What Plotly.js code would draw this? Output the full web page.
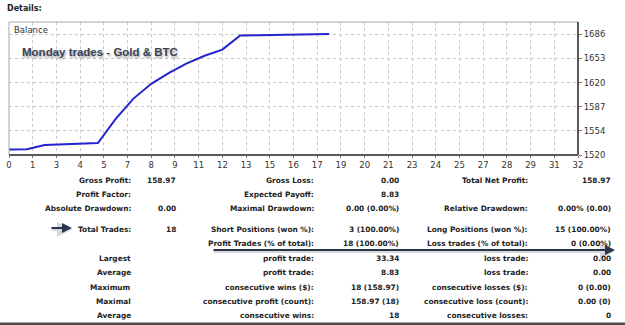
<!DOCTYPE html>
<html>
<head>
<meta charset="utf-8">
<script src="https://cdn.plot.ly/plotly-3.0.1.min.js"></script>
<style>
html,body{margin:0;padding:0;background:#fff;}
#chart{width:625px;height:325px;}
</style>
</head>
<body>
<div id="chart"></div>
<script>
// ---- data ----
var tradeIndex = [0,1,2,3,4,5,6,7,8,9,10,11,12,13,14,15,16,17,18];
var balance = [1527.4,1527.9,1533.6,1534.6,1535.3,1536.5,1569.8,1597.6,1618.0,1633.0,1646.0,1656.5,1665.0,1684.5,1684.7,1684.9,1686.0,1686.2,1686.4];
var xTickLabels = ["0","1","3","4","5","7","8","9","11","12","13","15","16","17","19","20","21","23","24","25","27","28","29","31","32"];
var yTickValues = [1520,1553.2,1586.4,1619.6,1652.8,1686];
var yTickLabels = ["1520","1554","1587","1620","1653","1686"];
var chartTitle = "Monday trades - Gold & BTC";

var col1Labels = ["Gross Profit:","Profit Factor:","Absolute Drawdown:","Total Trades:","","Largest","Average","Maximum","Maximal","Average"];
var col2Values = ["158.97","","0.00","18","","","","","",""];
var col3Labels = ["Gross Loss:","Expected Payoff:","Maximal Drawdown:","Short Positions (won %):","Profit Trades (% of total):","profit trade:","profit trade:","consecutive wins ($):","consecutive profit (count):","consecutive wins:"];
var col4Values = ["0.00","8.83","0.00 (0.00%)","3 (100.00%)","18 (100.00%)","33.34","8.83","18 (158.97)","158.97 (18)","18"];
var col5Labels = ["Total Net Profit:","","Relative Drawdown:","Long Positions (won %):","Loss trades (% of total):","loss trade:","loss trade:","consecutive losses ($):","consecutive loss (count):","consecutive losses:"];
var col6Values = ["158.97","","0.00% (0.00)","15 (100.00%)","0 (0.00%)","0.00","0.00","0 (0.00)","0.00 (0)","0"];

// ---- layout helpers ----
var W = 625, H = 325;
var L = 9, R = 578, T = 22, B = 155;
function px(x){ return (x - L) / (R - L); }
function py(y){ return (B - y) / (B - T); }

var xTickVals = xTickLabels.map(function(_, k){ return k * 32 / 24; });

var ann = [];
var tf = "DejaVu Sans";
ann.push({xref:'paper', yref:'paper', x:px(5), y:py(9), xanchor:'left', yanchor:'middle', showarrow:false,
  text:'<b>Details:</b>', font:{family:tf, size:8, color:'#222'}});
ann.push({xref:'paper', yref:'paper', x:px(12), y:py(30), xanchor:'left', yanchor:'middle', showarrow:false,
  text:'Balance', font:{family:tf, size:8.5, color:'#333'}});
ann.push({xref:'paper', yref:'paper', x:px(20), y:py(52), xanchor:'left', yanchor:'middle', showarrow:false,
  text:'<b>' + chartTitle + '</b>',
  font:{family:'Liberation Sans', size:11.5, color:'#3b4254', shadow:'1px 2px 2px rgba(0,0,0,0.35)'}});

var colX = [133, 178, 316, 401, 530, 613];
var cols = [col1Labels, col2Values, col3Labels, col4Values, col5Labels, col6Values];
for (var r = 0; r < 10; r++) {
  var y = 180 + r * 14.5 + (r >= 3 ? 5.5 : 0);
  for (var c = 0; c < 6; c++) {
    var t = cols[c][r];
    if (!t) continue;
    ann.push({xref:'paper', yref:'paper', x:px(colX[c]), y:py(y), xanchor:'right', yanchor:'middle', showarrow:false,
      text:'<b>' + t + '</b>', font:{family:tf, size:7.4, color:'#222'}});
  }
}
// arrows
ann.push({xref:'paper', yref:'paper', x:px(72), y:py(229.5), ax:-22, ay:0,
  showarrow:true, arrowhead:2, arrowsize:1, arrowwidth:3, arrowcolor:'rgba(0,0,0,0.15)', text:''});
ann.push({xref:'paper', yref:'paper', x:px(72), y:py(228), ax:-22, ay:0,
  showarrow:true, arrowhead:2, arrowsize:1, arrowwidth:2, arrowcolor:'#2b3550', text:''});
ann.push({xref:'paper', yref:'paper', x:px(615), y:py(251.5), ax:-403, ay:0,
  showarrow:true, arrowhead:2, arrowsize:1, arrowwidth:3, arrowcolor:'rgba(0,0,0,0.15)', text:''});
ann.push({xref:'paper', yref:'paper', x:px(615), y:py(250), ax:-403, ay:0,
  showarrow:true, arrowhead:2, arrowsize:1, arrowwidth:2, arrowcolor:'#2b3550', text:''});

var shapes = [
  {type:'rect', xref:'paper', yref:'paper', x0:0, x1:1, y0:0, y1:1, line:{color:'#a8a8a8', width:1}},
  {type:'line', xref:'paper', yref:'paper', x0:0, x1:1, y0:0, y1:0, line:{color:'#5a5a5a', width:2}},
  {type:'line', xref:'paper', yref:'paper', x0:1, x1:1, y0:0, y1:1, line:{color:'#5a5a5a', width:2}},
  {type:'rect', xref:'paper', yref:'paper', x0:px(0), x1:px(625), y0:py(325), y1:py(322.5), fillcolor:'#4a4a4a', line:{width:0}}
];

var trace = {
  x: tradeIndex, y: balance, type:'scatter', mode:'lines',
  line:{color:'#2424cc', width:2}, hoverinfo:'skip'
};

var layout = {
  width:W, height:H,
  margin:{l:L, r:W-R, t:T, b:H-B, pad:0},
  paper_bgcolor:'#fff', plot_bgcolor:'#fff',
  showlegend:false,
  xaxis:{range:[0,32], tickmode:'array', tickvals:xTickVals, ticktext:xTickLabels,
    showgrid:true, gridcolor:'#c8c8c8', griddash:'dot', gridwidth:1,
    zeroline:false, showline:false, ticks:'outside', ticklen:2, tickcolor:'#777',
    tickfont:{family:tf, size:8.5, color:'#333'}, fixedrange:true},
  yaxis:{range:[1520,1703], side:'right', tickmode:'array', tickvals:yTickValues, ticktext:yTickLabels,
    showgrid:true, gridcolor:'#c8c8c8', griddash:'dot', gridwidth:1,
    zeroline:false, showline:false, ticks:'outside', ticklen:3, tickcolor:'#777',
    tickfont:{family:tf, size:8.5, color:'#333'}, fixedrange:true},
  annotations:ann,
  shapes:shapes
};

Plotly.newPlot('chart', [trace], layout, {displayModeBar:false, staticPlot:true});
</script>
</body>
</html>
